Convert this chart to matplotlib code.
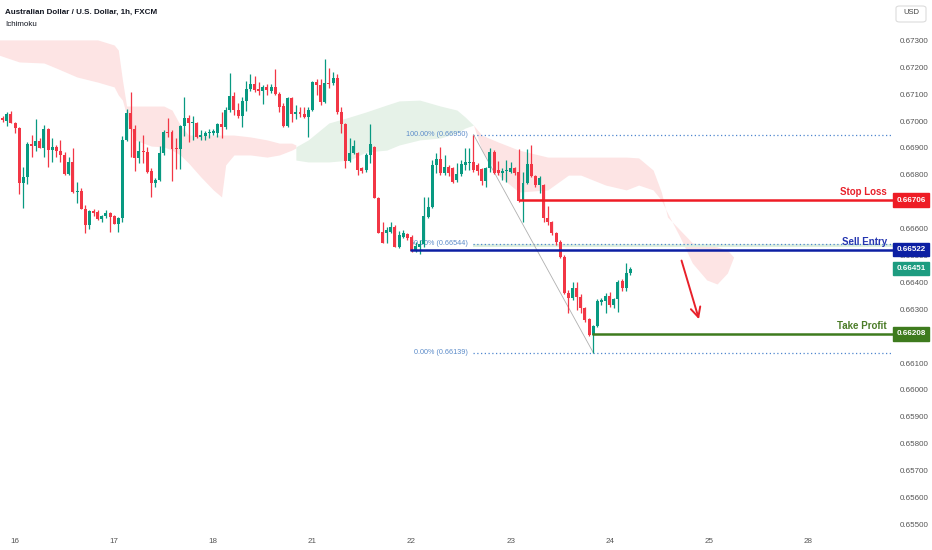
import matplotlib
matplotlib.use('Agg')
import matplotlib.pyplot as plt
from matplotlib.patches import FancyBboxPatch
import numpy as np

plt.rcParams['font.family'] = ['Liberation Sans', 'DejaVu Sans']

# AUDUSD 1h candles
opens = [0.67011, 0.67000, 0.67026, 0.66993, 0.66974, 0.66770, 0.66792, 0.66915, 0.66907, 0.66926,
         0.66900, 0.66971, 0.66892, 0.66904, 0.66889, 0.66874, 0.66803, 0.66848, 0.66736, 0.66740,
         0.66673, 0.66613, 0.66666, 0.66662, 0.66636, 0.66647, 0.66658, 0.66647, 0.66617, 0.66639,
         0.66930, 0.67030, 0.66971, 0.66863, 0.66889, 0.66885, 0.66814, 0.66770, 0.66781, 0.66881,
         0.66959, 0.66959, 0.66900, 0.66896, 0.66982, 0.67011, 0.66993, 0.66993, 0.66941, 0.66945,
         0.66956, 0.66956, 0.66956, 0.66989, 0.66978, 0.67041, 0.67093, 0.67041, 0.67019, 0.67075,
         0.67119, 0.67138, 0.67119, 0.67112, 0.67127, 0.67112, 0.67127, 0.67101, 0.67056, 0.66982,
         0.67086, 0.67026, 0.67034, 0.67026, 0.67015, 0.67041, 0.67145, 0.67134, 0.67071, 0.67142,
         0.67142, 0.67160, 0.67034, 0.66989, 0.66852, 0.66881, 0.66881, 0.66825, 0.66818, 0.66874,
         0.66904, 0.66714, 0.66587, 0.66584, 0.66587, 0.66606, 0.66532, 0.66569, 0.66580, 0.66569,
         0.66517, 0.66532, 0.66543, 0.66643, 0.66680, 0.66837, 0.66859, 0.66807, 0.66829, 0.66825,
         0.66781, 0.66803, 0.66837, 0.66844, 0.66848, 0.66837, 0.66822, 0.66777, 0.66825, 0.66885,
         0.66818, 0.66807, 0.66814, 0.66811, 0.66825, 0.66811, 0.66703, 0.66770, 0.66840, 0.66796,
         0.66762, 0.66762, 0.66639, 0.66625, 0.66584, 0.66550, 0.66494, 0.66360, 0.66342, 0.66379,
         0.66346, 0.66305, 0.66264, 0.66204, 0.66238, 0.66327, 0.66331, 0.66349, 0.66316, 0.66338,
         0.66405, 0.66379, 0.66435]
highs = [0.67019, 0.67034, 0.67038, 0.66997, 0.66978, 0.66829, 0.66922, 0.66948, 0.67008, 0.66937,
         0.66985, 0.66974, 0.66937, 0.66911, 0.66930, 0.66885, 0.66866, 0.66900, 0.66773, 0.66751,
         0.66688, 0.66669, 0.66673, 0.66669, 0.66651, 0.66669, 0.66662, 0.66651, 0.66643, 0.66945,
         0.67045, 0.67108, 0.66985, 0.66926, 0.66948, 0.66904, 0.66825, 0.66788, 0.66907, 0.66967,
         0.67011, 0.66967, 0.66937, 0.66985, 0.67090, 0.67023, 0.67019, 0.66997, 0.66967, 0.66963,
         0.66971, 0.66971, 0.66993, 0.67034, 0.67052, 0.67179, 0.67108, 0.67067, 0.67090, 0.67149,
         0.67175, 0.67168, 0.67145, 0.67134, 0.67138, 0.67138, 0.67194, 0.67108, 0.67067, 0.67090,
         0.67090, 0.67060, 0.67052, 0.67052, 0.67052, 0.67149, 0.67157, 0.67157, 0.67231, 0.67197,
         0.67183, 0.67175, 0.67052, 0.66993, 0.66937, 0.66930, 0.66885, 0.66829, 0.66881, 0.66989,
         0.66907, 0.66718, 0.66625, 0.66606, 0.66625, 0.66613, 0.66591, 0.66595, 0.66584, 0.66576,
         0.66550, 0.66558, 0.66718, 0.66718, 0.66855, 0.66881, 0.66904, 0.66874, 0.66837, 0.66829,
         0.66844, 0.66855, 0.66900, 0.66900, 0.66950, 0.66844, 0.66825, 0.66829, 0.66900, 0.66892,
         0.66852, 0.66825, 0.66855, 0.66848, 0.66829, 0.66896, 0.66811, 0.66896, 0.66911, 0.66799,
         0.66796, 0.66766, 0.66684, 0.66628, 0.66587, 0.66558, 0.66502, 0.66372, 0.66401, 0.66401,
         0.66357, 0.66308, 0.66267, 0.66241, 0.66338, 0.66342, 0.66360, 0.66364, 0.66342, 0.66409,
         0.66413, 0.66472, 0.66458]
lows = [0.66997, 0.66982, 0.66992, 0.66956, 0.66729, 0.66677, 0.66766, 0.66866, 0.66889, 0.66900,
        0.66866, 0.66829, 0.66848, 0.66866, 0.66848, 0.66799, 0.66799, 0.66732, 0.66695, 0.66673,
        0.66584, 0.66599, 0.66647, 0.66632, 0.66625, 0.66639, 0.66587, 0.66617, 0.66587, 0.66625,
        0.66926, 0.66866, 0.66814, 0.66844, 0.66844, 0.66807, 0.66718, 0.66755, 0.66777, 0.66874,
        0.66941, 0.66777, 0.66822, 0.66822, 0.66945, 0.66922, 0.66930, 0.66937, 0.66930, 0.66930,
        0.66937, 0.66948, 0.66941, 0.66937, 0.66971, 0.67034, 0.67023, 0.67011, 0.66978, 0.67038,
        0.67112, 0.67108, 0.67097, 0.67064, 0.67097, 0.67104, 0.67097, 0.67034, 0.66978, 0.66978,
        0.66997, 0.67008, 0.67015, 0.67011, 0.66941, 0.67038, 0.67097, 0.67060, 0.67067, 0.67123,
        0.67134, 0.67026, 0.66956, 0.66825, 0.66848, 0.66878, 0.66799, 0.66807, 0.66811, 0.66844,
        0.66714, 0.66584, 0.66547, 0.66547, 0.66584, 0.66532, 0.66528, 0.66565, 0.66558, 0.66513,
        0.66513, 0.66506, 0.66532, 0.66639, 0.66677, 0.66807, 0.66799, 0.66799, 0.66796, 0.66770,
        0.66773, 0.66796, 0.66818, 0.66818, 0.66811, 0.66799, 0.66762, 0.66755, 0.66811, 0.66803,
        0.66799, 0.66781, 0.66773, 0.66807, 0.66799, 0.66699, 0.66625, 0.66766, 0.66792, 0.66755,
        0.66732, 0.66625, 0.66613, 0.66576, 0.66539, 0.66491, 0.66357, 0.66286, 0.66334, 0.66297,
        0.66286, 0.66253, 0.66200, 0.66139, 0.66234, 0.66316, 0.66286, 0.66308, 0.66305, 0.66290,
        0.66368, 0.66368, 0.66427]
closes = [0.67004, 0.67026, 0.66993, 0.66974, 0.66770, 0.66792, 0.66915, 0.66907, 0.66926, 0.66900,
          0.66971, 0.66892, 0.66904, 0.66889, 0.66874, 0.66803, 0.66848, 0.66736, 0.66740, 0.66673,
          0.66613, 0.66666, 0.66658, 0.66636, 0.66647, 0.66658, 0.66643, 0.66617, 0.66639, 0.66930,
          0.67030, 0.66971, 0.66863, 0.66889, 0.66885, 0.66811, 0.66770, 0.66781, 0.66881, 0.66959,
          0.66956, 0.66896, 0.66896, 0.66982, 0.67011, 0.66993, 0.66997, 0.66941, 0.66948, 0.66956,
          0.66959, 0.66963, 0.66989, 0.66978, 0.67041, 0.67093, 0.67041, 0.67019, 0.67075, 0.67119,
          0.67138, 0.67116, 0.67112, 0.67127, 0.67116, 0.67127, 0.67101, 0.67052, 0.66982, 0.67086,
          0.67026, 0.67034, 0.67026, 0.67015, 0.67041, 0.67145, 0.67134, 0.67071, 0.67142, 0.67138,
          0.67160, 0.67034, 0.66989, 0.66852, 0.66881, 0.66907, 0.66818, 0.66814, 0.66874, 0.66915,
          0.66714, 0.66584, 0.66547, 0.66595, 0.66606, 0.66532, 0.66576, 0.66584, 0.66565, 0.66517,
          0.66535, 0.66543, 0.66647, 0.66680, 0.66837, 0.66859, 0.66807, 0.66829, 0.66807, 0.66773,
          0.66803, 0.66840, 0.66848, 0.66848, 0.66818, 0.66814, 0.66777, 0.66825, 0.66885, 0.66807,
          0.66807, 0.66814, 0.66818, 0.66825, 0.66807, 0.66703, 0.66770, 0.66840, 0.66796, 0.66762,
          0.66788, 0.66639, 0.66625, 0.66584, 0.66550, 0.66494, 0.66360, 0.66342, 0.66379, 0.66346,
          0.66305, 0.66260, 0.66204, 0.66238, 0.66331, 0.66334, 0.66349, 0.66316, 0.66338, 0.66401,
          0.66379, 0.66435, 0.66451]

day_labels = ['16', '17', '18', '21', '22', '23', '24', '25', '28']
first_day_bar = 3
bars_per_day = 24

# ichimoku cloud (bar index, upper span, lower span)
red_cloud1_x = [-1, 4, 10, 13, 18, 23, 27, 28, 29, 30, 32, 36, 39, 41, 43, 45, 48, 51, 53, 54,
                56, 60, 64, 67, 70, 71]
red_cloud1_top = [0.67302, 0.67302, 0.67302, 0.67302, 0.67302, 0.67302, 0.67283, 0.67264, 0.67153,
                  0.67056, 0.67056, 0.67056, 0.67056, 0.67041, 0.66985, 0.66948, 0.66948, 0.66948,
                  0.66948, 0.66948, 0.66948, 0.66941, 0.66930, 0.66918, 0.66918, 0.66911]
red_cloud1_bot = [0.67246, 0.67220, 0.67216, 0.67197, 0.67164, 0.67145, 0.67127, 0.67097, 0.67078,
                  0.67023, 0.66930, 0.66907, 0.66904, 0.66892, 0.66874, 0.66844, 0.66792, 0.66744,
                  0.66718, 0.66837, 0.66874, 0.66874, 0.66866, 0.66874, 0.66892, 0.66900]
green_cloud_x = [71, 74, 79, 84, 88, 93, 96, 101, 106, 110, 112, 114]
green_cloud_top = [0.66904, 0.66930, 0.66993, 0.67015, 0.67034, 0.67060, 0.67075, 0.67078,
                   0.67056, 0.67041, 0.67015, 0.66985]
green_cloud_bot = [0.66855, 0.66848, 0.66848, 0.66855, 0.66885, 0.66892, 0.66911, 0.66930,
                   0.66937, 0.66956, 0.66974, 0.66985]
red_cloud2_x = [114, 116, 120, 125, 132, 137, 140, 146, 151, 154, 157.5, 159.5, 161, 164, 167,
                170.5, 173, 175.5, 177]
red_cloud2_top = [0.66985, 0.66948, 0.66922, 0.66892, 0.66866, 0.66866, 0.66866, 0.66866, 0.66866,
                  0.66863, 0.66818, 0.66736, 0.66643, 0.66595, 0.66547, 0.66539, 0.66532, 0.66520,
                  0.66494]
red_cloud2_bot = [0.66985, 0.66892, 0.66799, 0.66736, 0.66744, 0.66799, 0.66799, 0.66762, 0.66744,
                  0.66762, 0.66744, 0.66706, 0.66658, 0.66569, 0.66472, 0.66409, 0.66394, 0.66435,
                  0.66494]

# fib retracement and trade levels
fib_levels = [1.0, 0.5, 0.0]
fib_prices = [0.66950, 0.66544, 0.66139]
fib_high_bar = 114
fib_low_bar = 143
stop_loss = 0.66706
sell_entry = 0.66522
take_profit = 0.66208
last_price = 0.66451
sl_start, entry_start, tp_start = 125, 98.6, 142.6
arrow_from = (164.2, 0.66491)
arrow_to = (168.8, 0.66253)

UP = '#089981'
DOWN = '#f23645'

fig = plt.figure(figsize=(9.32, 5.5), dpi=100)
ax = fig.add_axes([0, 18 / 550, 893 / 932, 532 / 550])
ax.set_xlim(-0.65, 215.6)
ax.set_ylim(0.654714, 0.674504)

# cloud
ax.fill_between(red_cloud1_x, red_cloud1_top, red_cloud1_bot, color='#fde4e4', lw=0, zorder=0.5)
ax.fill_between(green_cloud_x, green_cloud_top, green_cloud_bot, color='#e6f2e8', lw=0, zorder=0.5)
ax.fill_between(red_cloud2_x, red_cloud2_top, red_cloud2_bot, color='#fde4e4', lw=0, zorder=0.5)

# fib
right = 215.6
ax.fill_between([fib_high_bar, right], sell_entry + 0.00008, fib_prices[1], color='#dcefe0', lw=0, zorder=0.8)
for lvl, p in zip(fib_levels, fib_prices):
    ax.hlines(p, fib_high_bar, right, colors='#4f86cf', linestyles=(0, (1, 2)), lw=0.9, zorder=1)
    ax.annotate(f'{lvl * 100:.2f}% ({p:.5f})', xy=(fib_high_bar, p), xytext=(-4, 0),
                textcoords='offset points', ha='right', va='center', fontsize=5.2,
                color='#5b8bc9', zorder=1)
ax.plot([fib_high_bar, fib_low_bar], [fib_prices[0], fib_prices[2]], color='#b0b0b0', lw=0.6, zorder=1)

# candles
x = np.arange(len(opens))
o = np.array(opens)
c = np.array(closes)
cols = [UP if cc >= oo else DOWN for oo, cc in zip(o, c)]
ax.vlines(x, lows, highs, colors=cols, lw=0.9, zorder=2)
body = np.maximum(np.abs(c - o), 0.00002)
ax.bar(x, body, bottom=np.minimum(o, c), width=0.72, color=cols, lw=0, zorder=3)

# trade levels
levels = [(stop_loss, sl_start, '#ee1c25', 'Stop Loss', '#e8202a'),
          (sell_entry, entry_start, '#0c1fa3', 'Sell Entry', '#2536b0'),
          (take_profit, tp_start, '#3e7b1e', 'Take Profit', '#4c7d29')]
for p, start, col, name, tcol in levels:
    ax.hlines(p, start, right, colors=col, lw=1.8, zorder=4)
    ax.annotate(name, xy=(0.9933, p), xycoords=('axes fraction', 'data'), xytext=(0, 2),
                textcoords='offset points', ha='right', va='bottom', fontsize=7,
                fontweight='bold', color=tcol, zorder=5)
    ax.annotate(f'{p:.5f}', xy=(1, p), xycoords=('axes fraction', 'data'), xytext=(2.3, 0),
                textcoords='offset points', ha='left', va='center', fontsize=5.8,
                fontweight='bold', color='white', annotation_clip=False, zorder=10,
                bbox=dict(boxstyle='square,pad=0.4', fc=col, ec=col))
ax.annotate(f'{last_price:.5f}', xy=(1, last_price), xycoords=('axes fraction', 'data'), xytext=(2.3, 0),
            textcoords='offset points', ha='left', va='center', fontsize=5.8,
            fontweight='bold', color='white', annotation_clip=False, zorder=10,
            bbox=dict(boxstyle='square,pad=0.4', fc='#1d9c80', ec='#1d9c80'))

ax.annotate('', xy=arrow_to, xytext=arrow_from,
            arrowprops=dict(arrowstyle='->,head_length=0.7,head_width=0.35', color='#e8202a', lw=1.4),
            zorder=6)

# axes; the labels hidden under the stop loss / take profit boxes are left out
price_ticks = np.arange(0.655, 0.6735, 0.001)
hidden = [round(stop_loss, 3), round(take_profit, 3)]
ax.yaxis.tick_right()
ax.set_yticks(price_ticks)
ax.set_yticklabels(['' if round(t, 3) in hidden else f'{t:.5f}' for t in price_ticks])
ax.set_xticks([first_day_bar + bars_per_day * i for i in range(len(day_labels))])
ax.set_xticklabels(day_labels)
ax.tick_params(axis='y', length=0, pad=4.5, labelsize=5.8, labelcolor='#555555')
ax.tick_params(axis='x', length=0, pad=4.5, labelsize=5.8, labelcolor='#555555')
for s in ax.spines.values():
    s.set_visible(False)

fig.text(5 / 932, 1 - 12 / 550, 'Australian Dollar / U.S. Dollar, 1h, FXCM', fontsize=5.8,
         color='#131722', va='center', fontweight='semibold')
fig.text(5 / 932, 1 - 24 / 550, 'Ichimoku', fontsize=5.8, color='#131722', va='center')
fig.patches.append(FancyBboxPatch((896 / 932, 1 - 22 / 550), 30 / 932, 16 / 550,
                                  boxstyle='round,pad=0,rounding_size=0.004', transform=fig.transFigure,
                                  fc='white', ec='#dcdcdc', lw=0.8))
fig.text(911 / 932, 1 - 13 / 550, 'USD', fontsize=5.5, color='#444444', ha='center', va='center')

fig.savefig('out.png', dpi=100)
